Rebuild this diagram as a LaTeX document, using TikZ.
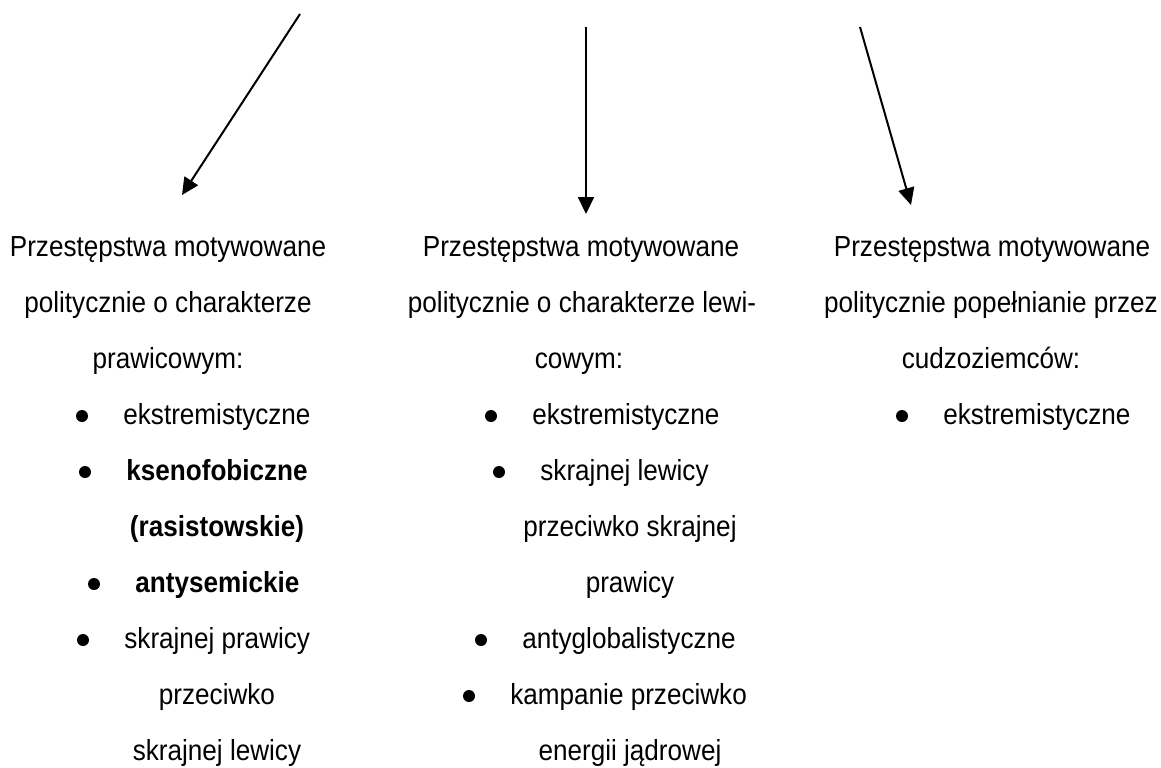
\documentclass[tikz,border=0pt]{standalone}
\usepackage{fontspec}
\setmainfont[FakeStretch=0.9]{Liberation Sans}
\usetikzlibrary{arrows.meta,calc}

\tikzset{
	txt/.style={font=\fontsize{14.5pt}{16pt}\selectfont, inner sep=0pt, anchor=base},
	txtl/.style={txt, anchor=base west},
	bul/.style={circle, fill=black, inner sep=0pt, minimum size=6pt},
	arr/.style={line width=1pt, -{Triangle[length=8.5pt,width=8pt]}}
}

\begin{document}
\begin{tikzpicture}[x=0.5pt,y=-0.5pt]
		%%%%% START %%%%%
		\useasboundingbox (0,0) rectangle (1161,767);
		
		\coordinate (s1) at (300,14);
		\coordinate (e1) at (182,195);
		\coordinate (s2) at (586,27);
		\coordinate (e2) at (586,214);
		\coordinate (s3) at (860,27);
		\coordinate (e3) at (911,205);
		
		\draw[arr] (s1) -- (e1);
		\draw[arr] (s2) -- (e2);
		\draw[arr] (s3) -- (e3);
		
		% prawica
		\node[txt] (p0) at (168,256) {Przestępstwa motywowane};
		\node[txt] (p1) at (168,312) {politycznie o charakterze};
		\node[txt] (p2) at (168,368) {prawicowym:};
		\node[txtl] (p3) at (123,424) {ekstremistyczne};
		\node[bul] (pb3) at ($(p3.base west)+(-41,-8)$) {};
		\node[txtl] (p4) at (126,480) {\bfseries ksenofobiczne};
		\node[bul] (pb4) at ($(p4.base west)+(-41,-8)$) {};
		\node[txt] (p5) at (217,536) {\bfseries (rasistowskie)};
		\node[txtl] (p6) at (135,592) {\bfseries antysemickie};
		\node[bul] (pb6) at ($(p6.base west)+(-41,-8)$) {};
		\node[txtl] (p7) at (124,648) {skrajnej prawicy};
		\node[bul] (pb7) at ($(p7.base west)+(-41,-8)$) {};
		\node[txt] (p8) at (217,704) {przeciwko};
		\node[txt] (p9) at (217,760) {skrajnej lewicy};
		
		% lewica
		\node[txt] (l0) at (581,256) {Przestępstwa motywowane};
		\node[txt] (l1) at (582,312) {politycznie o charakterze lewi-};
		\node[txt] (l2) at (579,368) {cowym:};
		\node[txtl] (l3) at (532,424) {ekstremistyczne};
		\node[bul] (lb3) at ($(l3.base west)+(-41,-8)$) {};
		\node[txtl] (l4) at (540,480) {skrajnej lewicy};
		\node[bul] (lb4) at ($(l4.base west)+(-41,-8)$) {};
		\node[txt] (l5) at (630,536) {przeciwko skrajnej};
		\node[txt] (l6) at (630,592) {prawicy};
		\node[txtl] (l7) at (522,648) {antyglobalistyczne};
		\node[bul] (lb7) at ($(l7.base west)+(-41,-8)$) {};
		\node[txtl] (l8) at (510,704) {kampanie przeciwko};
		\node[bul] (lb8) at ($(l8.base west)+(-41,-8)$) {};
		\node[txt] (l9) at (630,760) {energii jądrowej};
		
		% cudzoziemcy
		\node[txt] (c0) at (992,256) {Przestępstwa motywowane};
		\node[txt] (c1) at (991,312) {politycznie popełnianie przez};
		\node[txt] (c2) at (991,368) {cudzoziemców:};
		\node[txtl] (c3) at (943,424) {ekstremistyczne};
		\node[bul] (cb3) at ($(c3.base west)+(-41,-8)$) {};
		
		%%%%% END %%%%%
\end{tikzpicture}
\end{document}
